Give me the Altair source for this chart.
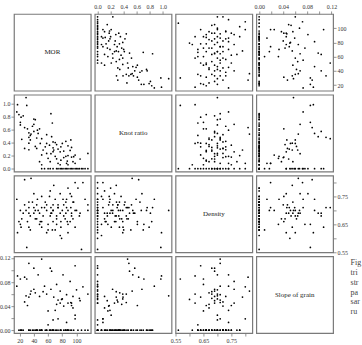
import altair as alt
import pandas as pd

# Observations: modulus of rupture, knot ratio, density and slope of grain
mor = [116, 112, 109, 107, 104, 102, 100, 98, 95, 93, 91, 88, 86, 84, 81, 79, 77, 74, 72, 67, 63, 60, 55, 51,
       116, 105, 98, 95, 96, 98, 88, 93, 93, 92, 86, 87, 82, 85, 77, 78, 80, 85, 77, 74, 72, 70, 67, 68, 67, 72,
       67, 65, 66, 64, 63, 60, 58, 53, 56, 58, 51, 49, 51, 48, 51, 44, 42, 46, 45, 48, 35, 33, 35, 36, 33, 31,
       33, 33, 42, 27, 23, 27, 21, 21, 25, 16, 17, 30, 29, 19, 40, 88, 82, 74, 62, 70, 64, 78, 58, 40, 38, 44,
       22, 40, 88, 91]
knot = [0, 0, 0, 0, 0, 0, 0, 0, 0, 0, 0, 0, 0, 0, 0, 0, 0, 0, 0, 0, 0, 0, 0, 0,
        0.234, 0.148, 0.082, 0.107, 0.183, 0.208, 0.06, 0.178, 0.325, 0.44, 0.082, 0.117, 0.17, 0.19, 0.259,
        0.335, 0.386, 0.42, 0.06, 0.082, 0.15, 0.19, 0.26, 0.286, 0.32, 0.37, 0.41, 0.49, 0.70, 0.843, 0.107,
        0.158, 0.234, 0.286, 0.335, 0.386, 0.46, 0.386, 0.06, 0.107, 0.21, 0.31, 0.34, 0.54, 0.59, 0.61, 0.44,
        0.48, 0.51, 0.53, 0.55, 0.61, 0.29, 0.39, 0.75, 0.31, 0.45, 0.63, 0.67, 0.71, 0.81, 0.87, 0.98, 0.97,
        1.09, 0.83, 0.76, 0.20, 0.27, 0.30, 0.36, 0.40, 0.23, 0.13, 0.52, 0.57, 0.65, 0.47, 0.79, 0.68, 0.35,
        0.28]
density = [0.70, 0.74, 0.80, 0.56, 0.68, 0.78, 0.70, 0.64, 0.73, 0.69, 0.76, 0.62, 0.71, 0.67, 0.74, 0.60,
           0.69, 0.72, 0.65, 0.70, 0.68, 0.63, 0.71, 0.66,
           0.72, 0.69, 0.80, 0.67, 0.73, 0.70, 0.65, 0.75, 0.68, 0.71, 0.74, 0.66, 0.72, 0.69, 0.76, 0.64,
           0.70, 0.73, 0.61, 0.71, 0.68, 0.74, 0.66, 0.79, 0.70, 0.67, 0.72, 0.69, 0.63, 0.71, 0.77, 0.65,
           0.70, 0.68, 0.73, 0.62, 0.71, 0.66, 0.75, 0.69, 0.64, 0.72, 0.67, 0.70, 0.74, 0.65, 0.68, 0.71,
           0.63, 0.815, 0.69, 0.66, 0.73, 0.64, 0.70, 0.72, 0.67, 0.81, 0.70, 0.65, 0.69, 0.74, 0.62, 0.567,
           0.70, 0.66, 0.71, 0.78, 0.68, 0.71, 0.75, 0.63, 0.69, 0.66, 0.72, 0.69, 0.73, 0.67, 0.64, 0.76,
           0.70, 0.66]
slope = [0.060, 0, 0.072, 0, 0.053, 0, 0.067, 0.107, 0.056, 0.045, 0.081, 0.045, 0.059, 0, 0.092, 0.051,
         0.065, 0, 0.076, 0.017, 0.103, 0.009, 0.073, 0,
         0, 0.049, 0.019, 0.037, 0, 0.025, 0, 0.041, 0, 0.046, 0.013, 0, 0.040, 0, 0.045, 0, 0.052, 0, 0,
         0.019, 0, 0.033, 0, 0.055, 0, 0.043, 0, 0.098, 0, 0, 0, 0.032, 0, 0.064, 0, 0.060, 0.118, 0, 0,
         0.056, 0, 0, 0.062, 0.092, 0, 0, 0.060, 0.111, 0, 0.065, 0, 0.041, 0, 0.055, 0, 0.047, 0, 0.088, 0,
         0.085, 0, 0.073, 0.090, 0.085, 0.057, 0, 0, 0, 0, 0.050, 0, 0, 0.068, 0, 0, 0.103, 0, 0, 0, 0.068,
         0, 0]

names = ["MOR", "Knot ratio", "Density", "Slope of grain"]
fields = ["mor", "knot", "density", "slope"]
tick_values = {
    "mor": [20, 40, 60, 80, 100],
    "knot": [0.0, 0.2, 0.4, 0.6, 0.8, 1.0],
    "density": [0.55, 0.60, 0.65, 0.70, 0.75, 0.80],
    "slope": [0.00, 0.02, 0.04, 0.06, 0.08, 0.10, 0.12],
}
formats = {"mor": "d", "knot": ".1f", "density": ".2f", "slope": ".2f"}
label_exprs = {
    "mor": "datum.label",
    "knot": "datum.label",
    "density": "round(datum.value * 100) % 10 == 5 ? datum.label : ''",
    "slope": "round(datum.value * 100) % 4 == 0 ? datum.label : ''",
}
caption = ["Fig", "tri", "str", "pa", "sar", "ru"]

df = pd.DataFrame({"mor": mor, "knot": knot, "density": density, "slope": slope})

# Axis ranges: data range widened by 4% on each side
domains = {}
for f in fields:
    lo, hi = df[f].min(), df[f].max()
    pad = 0.04 * (hi - lo)
    domains[f] = [float(lo - pad), float(hi + pad)]

W = 77
H = 77
SERIF = "Liberation Serif"
GRAY = "#7a7a7a"


def make_axis(field, orient):
    return alt.Axis(
        orient=orient,
        values=tick_values[field],
        format=formats[field],
        labelExpr=label_exprs[field],
        title=None,
        grid=False,
        domain=False,
        ticks=True,
        tickSize=3,
        tickColor=GRAY,
        tickWidth=0.8,
        labelFont=SERIF,
        labelFontSize=6,
        labelColor="#333333",
        labelPadding=1,
        labelFlush=False,
        labelOverlap=False,
        labelBound=False,
    )


def diag_panel(i):
    label = alt.Chart(pd.DataFrame({"name": [names[i]]})).mark_text(
        font=SERIF, fontSize=7, color="#222222"
    ).encode(x=alt.value(W / 2), y=alt.value(H / 2), text=alt.Text("name:N"))
    if i == 3:
        note = alt.Chart(pd.DataFrame({"name": [names[i]]})).mark_text(
            font=SERIF, fontSize=8, color="#444444", align="left",
            baseline="top", lineHeight=9.8
        ).encode(x=alt.value(94.5), y=alt.value(3), text=alt.value(caption))
        return alt.layer(label, note).properties(width=W, height=H)
    return label.properties(width=W, height=H)


def scatter_panel(r, c):
    fx, fy = fields[c], fields[r]
    xaxis = None
    yaxis = None
    if r == 0 and c % 2 == 1:
        xaxis = make_axis(fx, "top")
    if r == 3 and c % 2 == 0:
        xaxis = make_axis(fx, "bottom")
    if c == 0 and r % 2 == 1:
        yaxis = make_axis(fy, "left")
    if c == 3 and r % 2 == 0:
        yaxis = make_axis(fy, "right")
    return alt.Chart(df).mark_circle(size=3, color="black", opacity=1).encode(
        x=alt.X(f"{fx}:Q", scale=alt.Scale(domain=domains[fx], nice=False, zero=False), axis=xaxis),
        y=alt.Y(f"{fy}:Q", scale=alt.Scale(domain=domains[fy], nice=False, zero=False), axis=yaxis),
    ).properties(width=W, height=H)


panels = []
for r in range(4):
    for c in range(4):
        panels.append(diag_panel(r) if r == c else scatter_panel(r, c))

chart = alt.concat(*panels, columns=4, spacing=4, bounds="flush").properties(
    padding={"left": -2, "top": 2.5, "right": 0, "bottom": 0},
    background="white",
).configure_view(stroke=GRAY, strokeWidth=1.2)

chart.save("out.html", embed_options={"renderer": "svg", "actions": False})
